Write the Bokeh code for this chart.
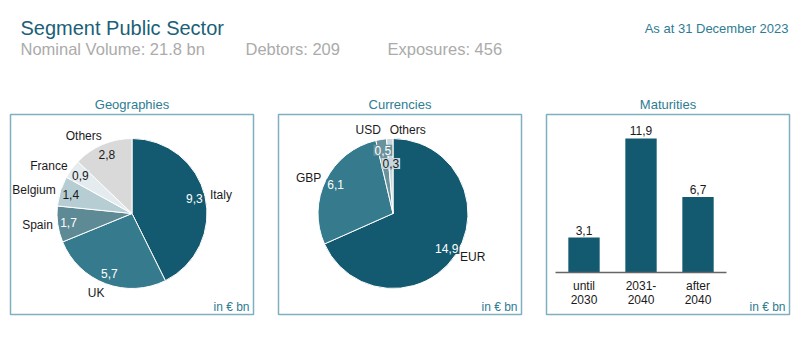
import math
from bokeh.plotting import figure
from bokeh.layouts import column, row
from bokeh.models import Range1d, LinearAxis, FixedTicker, ColumnDataSource
from bokeh.core.properties import value
from bokeh.embed import file_html
from bokeh.resources import INLINE

# ---------------- data ----------------
title_text = "Segment Public Sector"
date_text = "As at 31 December 2023"
nominal_volume = 21.8
debtors = 209
exposures = 456
panel_titles = ["Geographies", "Currencies", "Maturities"]
unit_text = "in € bn"

geo_names = ["Italy", "UK", "Spain", "Belgium", "France", "Others"]
geo_values = [9.3, 5.7, 1.7, 1.4, 0.9, 2.8]

cur_names = ["EUR", "GBP", "USD", "Others"]
cur_values = [14.9, 6.1, 0.5, 0.3]

mat_categories = ["until\n2030", "2031-\n2040", "after\n2040"]
mat_values = [3.1, 11.9, 6.7]

# ---------------- style ----------------
FONT = value("Liberation Sans")
DARK = "#135A70"
geo_colors = ["#135A70", "#367B8D", "#5E8A96", "#B6CDD4", "#E4ECEF", "#D9D9D9"]
cur_colors = ["#135A70", "#367B8D", "#6A929D", "#C6D8DD"]
BOX = "#7FB0BF"
TEAL = "#2E7C93"
HEAD = "#1B5F78"
GREY = "#ABABAB"
TXT = "#1A1A1A"


def fmt(v):
    return f"{v:.1f}".replace(".", ",")


def luminance(h):
    r, g, b = int(h[1:3], 16), int(h[3:5], 16), int(h[5:7], 16)
    return (0.299 * r + 0.587 * g + 0.114 * b) / 255


# ---------------- header ----------------
top = figure(width=800, height=113, x_range=Range1d(0, 800), y_range=Range1d(113, 0),
             x_axis_type=None, y_axis_type=None, min_border=0, toolbar_location=None,
             output_backend="svg", outline_line_color=None, title=None)
top.grid.visible = False
top.text(x=[20], y=[27], text=[title_text], text_font=FONT, text_font_size=value("20px"),
         text_color=HEAD, text_baseline="middle", text_align="left")
top.text(x=[20, 245, 387], y=[48, 48, 48],
         text=[f"Nominal Volume: {nominal_volume} bn", f"Debtors: {debtors}", f"Exposures: {exposures}"],
         text_font=FONT, text_font_size=value("16.5px"), text_color=GREY,
         text_baseline="middle", text_align="left")
top.text(x=[788], y=[27.5], text=[date_text], text_font=FONT, text_font_size=value("13px"),
         text_color=TEAL, text_baseline="middle", text_align="right")
top.text(x=[131.5, 399.5, 667.5], y=[103.5, 103.5, 103.5], text=panel_titles, text_font=FONT,
         text_font_size=value("13px"), text_color=TEAL, text_baseline="middle",
         text_align="center")


def make_panel(width, left, right, xr, yr):
    p = figure(width=width, height=241, x_range=xr, y_range=yr,
               x_axis_type=None, y_axis_type=None, toolbar_location=None,
               output_backend="svg", title=None,
               min_border_left=left, min_border_right=right, min_border_top=1,
               min_border_bottom=40)
    p.grid.visible = False
    p.outline_line_color = BOX
    p.outline_line_width = 1.5
    return p


def add_unit(p, x, y):
    p.text(x=[x], y=[y], text=[unit_text], text_font=FONT, text_font_size=value("12px"),
           text_color=TEAL, text_align="right", text_baseline="middle")


def draw_pie(p, cx, cy, names, values, colors, R=75):
    total = sum(values)
    cum = 0.0
    starts, ends, mids = [], [], []
    for v in values:
        f0 = cum / total
        cum += v
        f1 = cum / total
        starts.append(math.pi / 2 - 2 * math.pi * f0)
        ends.append(math.pi / 2 - 2 * math.pi * f1)
        mids.append(2 * math.pi * (f0 + f1) / 2)  # clockwise from 12 o'clock
    p.wedge(x=cx, y=cy, radius=R, start_angle=starts, end_angle=ends, direction="clock",
            fill_color=colors, line_color="white", line_width=1)

    # value labels
    vx, vy = [], []
    rv = 0.855 * R
    for i, th in enumerate(mids):
        r = rv
        x = cx + r * math.sin(th)
        y = cy + r * math.cos(th)
        if i > 0 and math.hypot(x - vx[-1], y - vy[-1]) < 16:
            r = rv - 14
            x = cx + r * math.sin(th)
            y = cy + r * math.cos(th)
        vx.append(x)
        vy.append(y)
    tcol = ["white" if luminance(c) < 0.55 else TXT for c in colors]
    src = ColumnDataSource(dict(x=vx, y=vy, t=[fmt(v) for v in values], bg=colors, tc=tcol))
    p.text(x="x", y="y", text="t", source=src, text_font=FONT, text_font_size=value("12px"),
           text_color="tc", text_align="center", text_baseline="middle",
           background_fill_color="bg", padding=1)

    # name labels
    nx, ny, al, bl = [], [], [], []
    for th in mids:
        s, c = math.sin(th), math.cos(th)
        if c > 0.8:
            base, rn = "bottom", R + 2
        elif c < -0.8:
            base, rn = "top", R + 3
        else:
            base, rn = "middle", R + 5
        nx.append(cx + rn * s)
        ny.append(cy + rn * c)
        al.append("left" if s > -0.1 else "right")
        bl.append(base)
    src2 = ColumnDataSource(dict(x=nx, y=ny, t=names, al=al, bl=bl))
    p.text(x="x", y="y", text="t", source=src2, text_font=FONT, text_font_size=value("12px"),
           text_color=TXT, text_align="al", text_baseline="bl")


# Geographies
p1 = make_panel(265, 10, 12, Range1d(0, 243), Range1d(0, 200))
draw_pie(p1, 121.5, 101, geo_names, geo_values, geo_colors)
add_unit(p1, 239, 8)

# Currencies
p2 = make_panel(268, 13, 12, Range1d(0, 243), Range1d(0, 200))
draw_pie(p2, 114.5, 101, cur_names, cur_values, cur_colors)
add_unit(p2, 239, 8)

# Maturities
p3 = make_panel(267, 13, 11, Range1d(-0.658, 3.605), Range1d(-3.73, 14.03))
idx = list(range(len(mat_categories)))
p3.vbar(x=idx, top=mat_values, bottom=0, width=0.55, fill_color=DARK, line_color=None)
p3.text(x=idx, y=mat_values, text=[fmt(v) for v in mat_values], text_font=FONT,
        text_font_size=value("12px"), text_color=TXT, text_align="center",
        text_baseline="bottom", y_offset=-3)
ax = LinearAxis(fixed_location=0, bounds=(-0.5, 2.5), ticker=FixedTicker(ticks=idx),
                major_label_overrides={i: c for i, c in zip(idx, mat_categories)})
ax.axis_line_color = "#666666"
ax.axis_line_width = 1.5
ax.major_tick_line_color = None
ax.minor_tick_line_color = None
ax.major_label_text_font = "Liberation Sans"
ax.major_label_text_font_size = "12px"
ax.major_label_text_color = TXT
ax.major_label_text_line_height = 1.0
ax.major_label_standoff = 1
p3.add_layout(ax, "below")
p3.text(x=[3.605], y=[-3.73], text=[unit_text], text_font=FONT, text_font_size=value("12px"),
        text_color=TEAL, text_align="right", text_baseline="middle",
        x_offset=-4, y_offset=-8)

layout = column(top, row(p1, p2, p3))
open("out.html", "w").write(file_html(layout, INLINE))
